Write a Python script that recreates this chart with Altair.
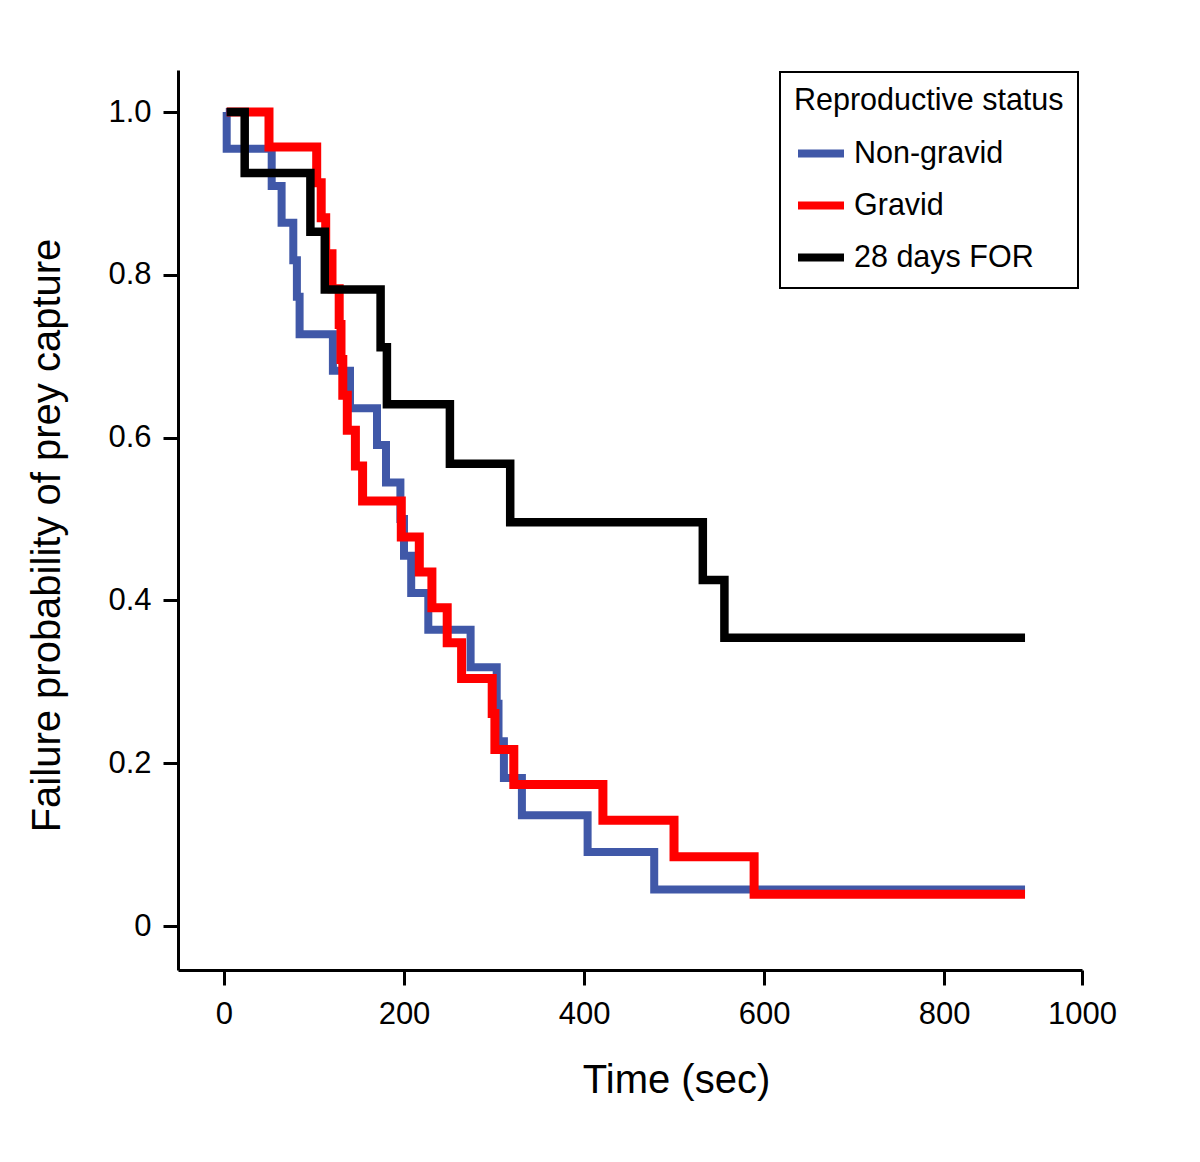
import altair as alt
import pandas as pd

# ---- data (Kaplan-Meier style step curves) ----
series_names = ["Non-gravid", "Gravid", "28 days FOR"]
series_colors = ["#4058A8", "#FF0000", "#000000"]

nongravid_time = [2, 3, 53, 64, 77, 81, 84, 121, 140, 170, 180, 196, 200, 208,
                  227, 274, 303, 305, 311, 331, 404, 478, 890]
nongravid_surv = [1.0, 0.955, 0.909, 0.864, 0.818, 0.773, 0.727, 0.682, 0.636,
                  0.591, 0.545, 0.5, 0.455, 0.409, 0.364, 0.318, 0.273, 0.227,
                  0.182, 0.136, 0.091, 0.045, 0.045]

gravid_time = [3, 50, 103, 108, 113, 120, 128, 130, 132, 137, 146, 154, 197,
               217, 231, 248, 264, 298, 301, 322, 421, 500, 589, 890]
gravid_surv = [1.0, 0.957, 0.913, 0.870, 0.826, 0.783, 0.739, 0.696, 0.652,
               0.609, 0.565, 0.522, 0.478, 0.435, 0.391, 0.348, 0.304, 0.261,
               0.217, 0.174, 0.130, 0.085, 0.039, 0.039]

for_time = [3, 23, 96, 112, 174, 181, 251, 318, 532, 556, 890]
for_surv = [1.0, 0.925, 0.853, 0.782, 0.711, 0.641, 0.568, 0.496, 0.425,
            0.354, 0.354]

x_tick_values = [0, 200, 400, 600, 800, 953.3]
x_tick_labels = ["0", "200", "400", "600", "800", "1000"]
y_tick_values = [0, 0.2, 0.4, 0.6, 0.8, 1.0]
y_tick_labels = ["0", "0.2", "0.4", "0.6", "0.8", "1.0"]

x_domain = [-51.1, 953.3]
y_domain = [-0.054, 1.0516]

# ---- build table ----
rows = []
for name, ts, vs in [(series_names[0], nongravid_time, nongravid_surv),
                     (series_names[1], gravid_time, gravid_surv),
                     (series_names[2], for_time, for_surv)]:
    for t, v in zip(ts, vs):
        rows.append({"status": name, "time": t, "surv": v})
df = pd.DataFrame(rows)


def label_expr(values, labels, tol):
    expr = "''"
    for v, l in reversed(list(zip(values, labels))):
        expr = f"(abs(datum.value - {v}) < {tol}) ? '{l}' : {expr}"
    return expr


FONT = "Liberation Sans, Arial, sans-serif"

x_enc = alt.X(
    "time:Q",
    scale=alt.Scale(domain=x_domain, nice=False, zero=False),
    axis=alt.Axis(
        values=x_tick_values,
        labelExpr=label_expr(x_tick_values, x_tick_labels, 0.5),
        labelFlush=False,
        title="Time (sec)",
        titleX=498, titleY=110, titleBaseline="middle", titleAlign="center",
        labelPadding=14,
    ),
)
y_enc = alt.Y(
    "surv:Q",
    scale=alt.Scale(domain=y_domain, nice=False, zero=False),
    axis=alt.Axis(
        values=y_tick_values,
        labelExpr=label_expr(y_tick_values, y_tick_labels, 0.001),
        labelFlush=False,
        title="Failure probability of prey capture",
        titleX=-131, titleY=465, titleBaseline="middle", titleAlign="center",
        titleAngle=270,
        labelPadding=12,
    ),
)
color_enc = alt.Color(
    "status:N",
    scale=alt.Scale(domain=series_names, range=series_colors),
    legend=alt.Legend(
        title="Reproductive status",
        orient="none", legendX=602, legendY=2,
        direction="vertical",
        symbolType="stroke", symbolSize=2116, symbolStrokeWidth=8,
        labelFontSize=30.5, titleFontSize=30.5, titleFontWeight="normal",
        labelFont=FONT, titleFont=FONT, labelColor="black", titleColor="black",
        labelOffset=6, rowPadding=9, titlePadding=10, padding=14,
        strokeColor="black", fillColor="white", cornerRadius=0,
        labelLimit=400, titleLimit=400,
    ),
)

widths = [8, 9, 8.5]
layers = []
for name, w in zip(series_names, widths):
    layers.append(
        alt.Chart(df)
        .transform_filter(alt.datum.status == name)
        .mark_line(interpolate="step-after", strokeWidth=w, strokeCap="butt",
                   strokeJoin="miter")
        .encode(x=x_enc, y=y_enc, color=color_enc)
    )

chart = (
    alt.layer(*layers)
    .properties(
        width=904, height=900,
        padding={"left": 170, "top": 62, "right": 90, "bottom": 170},
        autosize=alt.AutoSizeParams(type="none"),
        background="white",
    )
    .configure_view(stroke=None)
    .configure_axis(
        grid=False,
        domainColor="black", domainWidth=3,
        tickColor="black", tickWidth=3, tickSize=15,
        labelColor="black", labelFont=FONT, labelFontSize=31,
        titleColor="black", titleFont=FONT, titleFontSize=40,
        titleFontWeight="normal",
    )
    .configure_legend(strokeWidth=2)
)

chart.save("out.html", embed_options={"renderer": "svg", "actions": False})
